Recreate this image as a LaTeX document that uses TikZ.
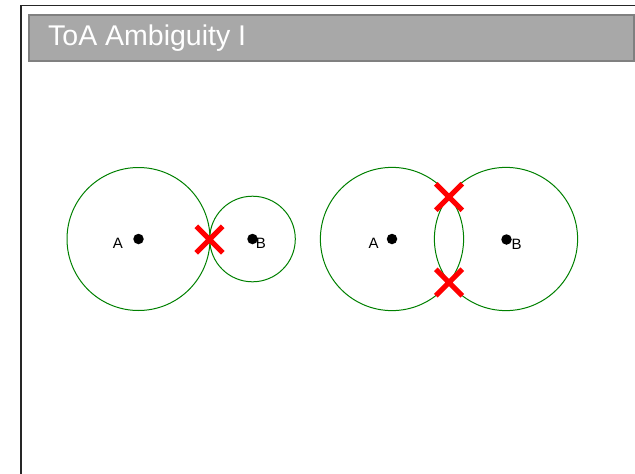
\documentclass[tikz,border=0pt]{standalone}
\usepackage{fontspec}
\setmainfont{Liberation Sans}
\usetikzlibrary{shapes.misc}

\definecolor{titlegrey}{HTML}{A8A8A8}
\definecolor{titleframe}{HTML}{808080}
\definecolor{ringgreen}{HTML}{008000}

\begin{document}
\begin{tikzpicture}[x=1pt,y=-1pt,
	ring/.style={draw=ringgreen, line width=1pt},
	station/.style={circle, fill=black, inner sep=0pt, minimum size=10.5pt},
	hit/.style={cross out, draw=red, line width=5pt, minimum size=21.5pt, inner sep=0pt},
	tag/.style={font=\fontsize{15}{17}\selectfont}]

	\useasboundingbox (0,0) rectangle (635,474);

	% slide frame
	\draw [line width=1.3pt, black!85] (21,474) -- (21,5.5) -- (635,5.5);

	% title bar
	\draw [line width=2pt, draw=titleframe, fill=titlegrey] (29,14.5) rectangle (634,60.5);
	\node [anchor=base west, inner sep=0pt, text=white, font=\fontsize{28.5}{32}\selectfont] (title) at (48,45) {ToA Ambiguity I};

	% left pair: circles touch in one point
	\draw [ring] (138.5,239) circle (71.5);
	\draw [ring] (252.5,239) circle (42.8);
	\node [station] (a1) at (138.5,239) {};
	\node [station] (b1) at (252.5,239) {};
	\node [tag] (la1) at (118,243) {A};
	\node [tag] (lb1) at (261,243.5) {B};
	\node [hit] (x1) at (209.5,239.5) {};

	% right pair: circles cross in two points
	\draw [ring] (392,239) circle (71.6);
	\draw [ring] (506,239) circle (71.6);
	\node [station] (a2) at (392,239) {};
	\node [station] (b2) at (506.5,239.5) {};
	\node [tag] (la2) at (373.5,243) {A};
	\node [tag] (lb2) at (516.5,244.5) {B};
	\node [hit] (x2) at (449,197) {};
	\node [hit] (x3) at (449,282.5) {};

\end{tikzpicture}
\end{document}
